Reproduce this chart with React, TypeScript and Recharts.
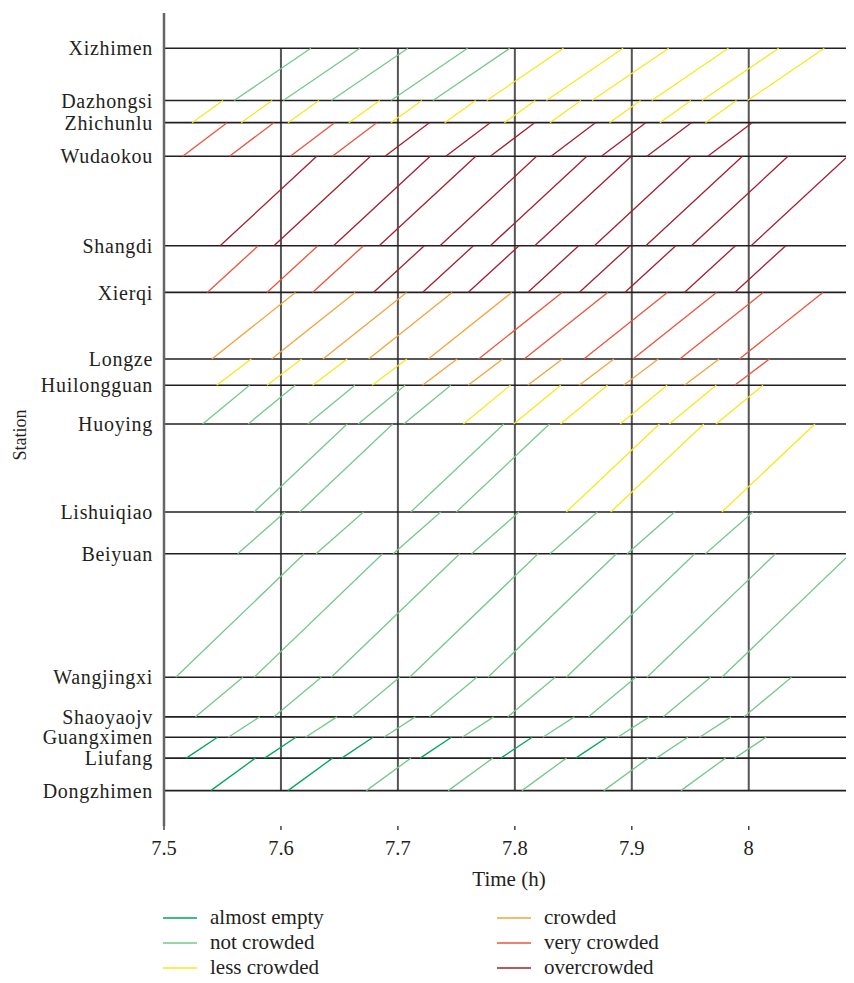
import React from "react";
import { LineChart, Line, XAxis, YAxis, ReferenceLine, Legend, Label } from "recharts";

// stations from top (Xizhimen) to bottom (Dongzhimen), distance in km
const stations = [
  "Xizhimen", "Dazhongsi", "Zhichunlu", "Wudaokou", "Shangdi", "Xierqi", "Longze",
  "Huilongguan", "Huoying", "Lishuiqiao", "Beiyuan", "Wangjingxi", "Shaoyaojv",
  "Guangximen", "Liufang", "Dongzhimen",
];
const stationKm = [
  0, 2.839, 4.045, 5.874, 10.74, 13.278, 16.901, 18.324, 20.434, 25.219, 27.491,
  34.211, 36.363, 37.473, 38.608, 40.377,
];

const timeTicks = [7.5, 7.6, 7.7, 7.8, 7.9, 8];

// crowding levels: 1 almost empty ... 6 overcrowded
const levelNames = ["almost empty", "not crowded", "less crowded", "crowded", "very crowded", "overcrowded"];
const levelColors = ["#00a65a", "#74c98c", "#fbe61e", "#f7a23a", "#f0523a", "#a51e2e"];

// running time (h) of each section, from the station below to the station above
const runTimes = [
  0.0656, 0.0265, 0.0379, 0.0826, 0.0436, 0.0714, 0.0297, 0.0402, 0.0796, 0.0406,
  0.1099, 0.0405, 0.0269, 0.0268, 0.0381,
];

// departure times (h) from the lower station of each section, with crowding level
const depXizhimen = [7.560, 7.602, 7.643, 7.694, 7.730, 7.776, 7.827, 7.866, 7.917, 7.960, 7.999];
const lvlXizhimen = [2, 2, 2, 2, 2, 3, 3, 3, 3, 3, 3];
const depDazhongsi = [7.524, 7.566, 7.606, 7.658, 7.694, 7.740, 7.791, 7.830, 7.881, 7.924, 7.963];
const lvlDazhongsi = [3, 3, 3, 3, 3, 3, 3, 3, 3, 3, 3];
const depZhichunlu = [7.516, 7.556, 7.608, 7.644, 7.689, 7.741, 7.779, 7.831, 7.874, 7.913, 7.965];
const lvlZhichunlu = [5, 5, 5, 5, 6, 6, 6, 6, 6, 6, 6];
const depWudaokou = [7.548, 7.594, 7.645, 7.684, 7.736, 7.779, 7.817, 7.868, 7.912, 7.951, 8.002];
const lvlWudaokou = [6, 6, 6, 6, 6, 6, 6, 6, 6, 6, 6];
const depShangdi = [7.537, 7.588, 7.627, 7.679, 7.721, 7.760, 7.811, 7.855, 7.894, 7.945, 7.988];
const lvlShangdi = [5, 5, 5, 6, 6, 6, 6, 6, 6, 6, 6];
const depXierqi = [7.541, 7.592, 7.636, 7.675, 7.726, 7.769, 7.808, 7.859, 7.901, 7.941, 7.992];
const lvlXierqi = [4, 4, 4, 4, 4, 5, 5, 5, 5, 5, 5];
const depLongze = [7.545, 7.588, 7.627, 7.678, 7.721, 7.760, 7.811, 7.855, 7.893, 7.945, 7.988];
const lvlLongze = [3, 3, 3, 3, 4, 4, 4, 4, 4, 4, 5];
const depHuilongguan = [7.533, 7.572, 7.623, 7.666, 7.705, 7.756, 7.799, 7.839, 7.890, 7.932, 7.972];
const lvlHuilongguan = [2, 2, 2, 2, 2, 3, 3, 3, 3, 3, 3];
const depHuoying = [7.577, 7.616, 7.711, 7.750, 7.844, 7.882, 7.977];
const lvlHuoying = [2, 2, 2, 2, 3, 3, 3];
const depLishuiqiao = [7.563, 7.630, 7.696, 7.763, 7.830, 7.896, 7.963];
const lvlLishuiqiao = [2, 2, 2, 2, 2, 2, 2];
const depBeiyuan = [7.510, 7.577, 7.643, 7.710, 7.777, 7.844, 7.913, 7.977];
const lvlBeiyuan = [2, 2, 2, 2, 2, 2, 2, 2];
const depWangjingxi = [7.527, 7.594, 7.661, 7.727, 7.794, 7.863, 7.927, 7.996];
const lvlWangjingxi = [2, 2, 2, 2, 2, 2, 2, 2];
const depShaoyaojv = [7.555, 7.621, 7.688, 7.755, 7.824, 7.888, 7.958];
const lvlShaoyaojv = [2, 2, 2, 2, 2, 2, 2];
const depGuangximen = [7.519, 7.586, 7.652, 7.719, 7.788, 7.852, 7.921, 7.988];
const lvlGuangximen = [1, 1, 1, 1, 1, 1, 2, 2];
const depLiufang = [7.540, 7.606, 7.673, 7.743, 7.806, 7.876, 7.942];
const lvlLiufang = [1, 1, 2, 2, 2, 2, 2];

// index i = section whose upper end is stations[i]
const sections = [
  [depXizhimen, lvlXizhimen], [depDazhongsi, lvlDazhongsi], [depZhichunlu, lvlZhichunlu],
  [depWudaokou, lvlWudaokou], [depShangdi, lvlShangdi], [depXierqi, lvlXierqi],
  [depLongze, lvlLongze], [depHuilongguan, lvlHuilongguan], [depHuoying, lvlHuoying],
  [depLishuiqiao, lvlLishuiqiao], [depBeiyuan, lvlBeiyuan], [depWangjingxi, lvlWangjingxi],
  [depShaoyaojv, lvlShaoyaojv], [depGuangximen, lvlGuangximen], [depLiufang, lvlLiufang],
];

type Pt = { t: number; d: number | null };

function levelData(level: number): Pt[] {
  const pts: Pt[] = [];
  sections.forEach(([dep, lvl], i) => {
    dep.forEach((t0, k) => {
      if (lvl[k] !== level) return;
      const t1 = t0 + runTimes[i];
      pts.push({ t: t0, d: stationKm[i + 1] });
      pts.push({ t: t1, d: stationKm[i] });
      pts.push({ t: t1, d: null });
    });
  });
  return pts;
}

const FONT = "'Liberation Serif', 'Times New Roman', serif";
const INK = "#231f20";

function LegendBox() {
  return (
    <div style={{ position: "relative", width: 846, height: 82, fontFamily: FONT, fontSize: 21, color: INK }}>
      {levelNames.map((name, i) => (
        <div
          key={name}
          style={{
            position: "absolute",
            left: i < 3 ? 155 : 489,
            top: 9 + (i % 3) * 25,
            height: 25,
            display: "flex",
            alignItems: "center",
            whiteSpace: "nowrap",
          }}
        >
          <svg width={34} height={4} style={{ marginRight: 13 }}>
            <line x1={0} y1={2} x2={34} y2={2} stroke={levelColors[i]} strokeWidth={1.5} />
          </svg>
          <span>{name}</span>
        </div>
      ))}
    </div>
  );
}

function StationLabel() {
  return (
    <text x={12} y={427} transform="rotate(-90 12 427)" textAnchor="middle" dominantBaseline="central" fill={INK} fontSize={18} fontFamily={FONT}>
      Station
    </text>
  );
}

export default function App() {
  return (
    <LineChart width={846} height={975} margin={{ top: 5, right: 0, bottom: 5, left: 6 }}>
      <XAxis
        type="number"
        dataKey="t"
        domain={[7.5, 8.09]}
        ticks={timeTicks}
        allowDataOverflow
        axisLine={false}
        tickLine={{ stroke: "#444", strokeWidth: 1.5 }}
        tickSize={4}
        tickMargin={10}
        height={70}
        tick={{ fill: INK, fontSize: 20.5, fontFamily: FONT }}
        tickFormatter={(v: number) => (v === 8 ? "8" : v.toFixed(1))}
        label={{ value: "Time (h)", position: "insideBottom", offset: 10, fill: INK, fontSize: 21, fontFamily: FONT }}
      />
      <YAxis
        type="number"
        dataKey="d"
        reversed
        domain={[-1.92, 42.3]}
        ticks={stationKm}
        interval={0}
        allowDataOverflow
        width={150}
        axisLine={{ stroke: "#666", strokeWidth: 2.5 }}
        tickLine={false}
        tickMargin={5}
        tick={{ fill: INK, fontSize: 20, fontFamily: FONT, letterSpacing: 0.7 }}
        tickFormatter={(v: number) => stations[stationKm.indexOf(v)]}
      >
        <Label content={StationLabel} />
      </YAxis>
      {timeTicks.slice(1).map((t) => (
        <ReferenceLine
          key={"v" + t}
          segment={[{ x: t, y: stationKm[0] }, { x: t, y: stationKm[stationKm.length - 1] }]}
          stroke="#555"
          strokeWidth={2}
        />
      ))}
      {stationKm.map((d) => (
        <ReferenceLine key={"h" + d} y={d} stroke={INK} strokeWidth={1.6} />
      ))}
      {levelColors.map((c, i) => (
        <Line
          key={levelNames[i]}
          data={levelData(i + 1)}
          dataKey="d"
          type="linear"
          stroke={c}
          strokeWidth={1.3}
          dot={false}
          activeDot={false}
          connectNulls={false}
          legendType="none"
          isAnimationActive={false}
        />
      ))}
      <Legend verticalAlign="bottom" wrapperStyle={{ left: 0, bottom: 5, width: 846 }} content={() => <LegendBox />} />
    </LineChart>
  );
}
